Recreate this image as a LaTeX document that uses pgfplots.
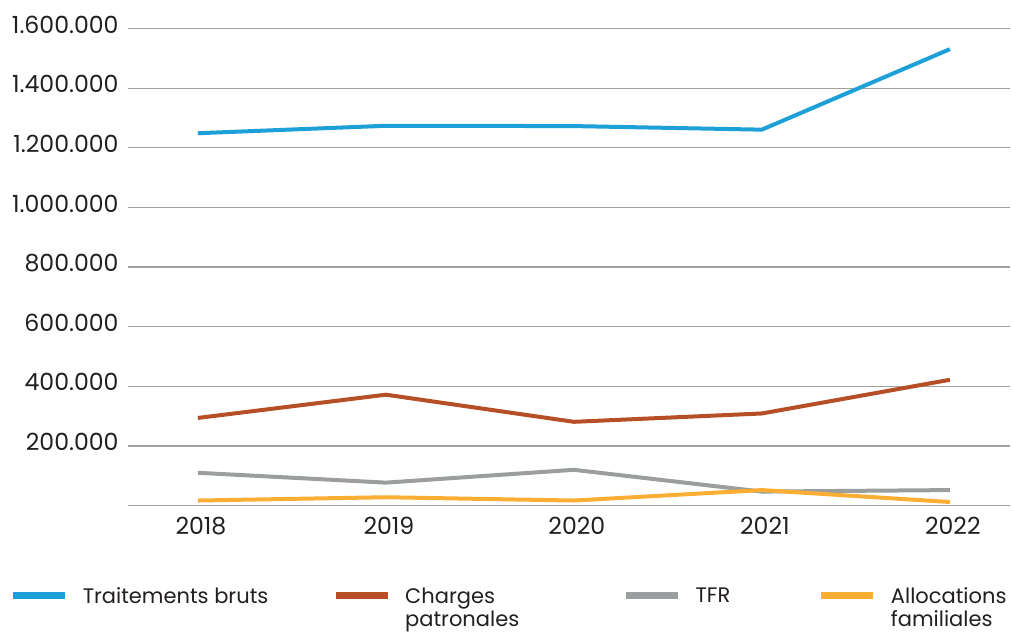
\documentclass[border=0pt]{standalone}
\usepackage{pgfplots}
\pgfplotsset{compat=1.18}
\usepackage{fontspec}
\setmainfont{Poppins}

\definecolor{cBlue}{RGB}{29,160,215}
\definecolor{cBrown}{RGB}{182,79,38}
\definecolor{cGray}{RGB}{155,158,158}
\definecolor{cYellow}{RGB}{251,174,52}
\definecolor{gridgray}{RGB}{165,160,155}
\definecolor{txt}{RGB}{35,31,32}

\begin{document}
\begin{tikzpicture}
  \begin{axis}[
      scale only axis,
      width  = 441pt,
      height = 238.5pt,
      xmin = -0.372, xmax = 4.32,
      ymin = 0, ymax = 1600000,
      scaled y ticks = false,
      xtick = {0,1,2,3,4},
      xticklabels = {2018,2019,2020,2021,2022},
      ytick = {0,200000,400000,600000,800000,1000000,1200000,1400000,1600000},
      yticklabels = {,200.000,400.000,600.000,800.000,1.000.000,1.200.000,1.400.000,1.600.000},
      ymajorgrids = true,
      grid style  = {line width=0.6pt, gridgray},
      axis line style = {draw=none},
      major tick length = 0pt,
      tick label style = {font=\fontsize{11.8}{13}\selectfont, text=txt},
      yticklabel style = {xshift=-1.2pt, yshift=2pt},
      xticklabel style = {yshift=-2pt, xshift=1.5pt},
      clip = false,
      legend columns = 4,
      legend style = {
        at = {(-0.1345,-0.171)}, anchor = north west,
        draw = none, fill = none, inner sep = 0pt,
        font = \fontsize{10.5}{11.5}\selectfont,
        nodes = {inner sep=0pt, text=txt, text depth=15pt},
        /tikz/every odd column/.style = {column sep=7pt},
      },
      legend image code/.code = {
        \draw[#1, line width=3.5pt] (0pt,7.6pt) -- (26pt,7.6pt);
      },
      every axis plot/.append style = {line width=2pt, line join=round},
    ]
    \addplot[cBlue] coordinates {
      (0,1249000)(1,1274000)(2,1273000)(3,1261000)(4,1531000)
    };
    \addlegendentry{\parbox[t]{124.7pt}{Traitements bruts}}
    \addplot[cBrown] coordinates {
      (0,294000)(1,372000)(2,281000)(3,309000)(4,422000)
    };
    \addlegendentry{\parbox[t]{108.7pt}{Charges\\patronales}}
    \addplot[cGray] coordinates {
      (0,110000)(1,77000)(2,120000)(3,47000)(4,52000)
    };
    \addlegendentry{\parbox[t]{61.2pt}{TFR}}
    \addplot[cYellow] coordinates {
      (0,17000)(1,28000)(2,17000)(3,52000)(4,12000)
    };
    \addlegendentry{\parbox[t]{60pt}{Allocations\\familiales}}
  \end{axis}
  \pgfresetboundingbox
  \path[use as bounding box]
    ([shift={(-64pt,-64.5pt)}]current axis.south west)
    rectangle ([shift={(1pt,14.3pt)}]current axis.north east);
\end{tikzpicture}
\end{document}
